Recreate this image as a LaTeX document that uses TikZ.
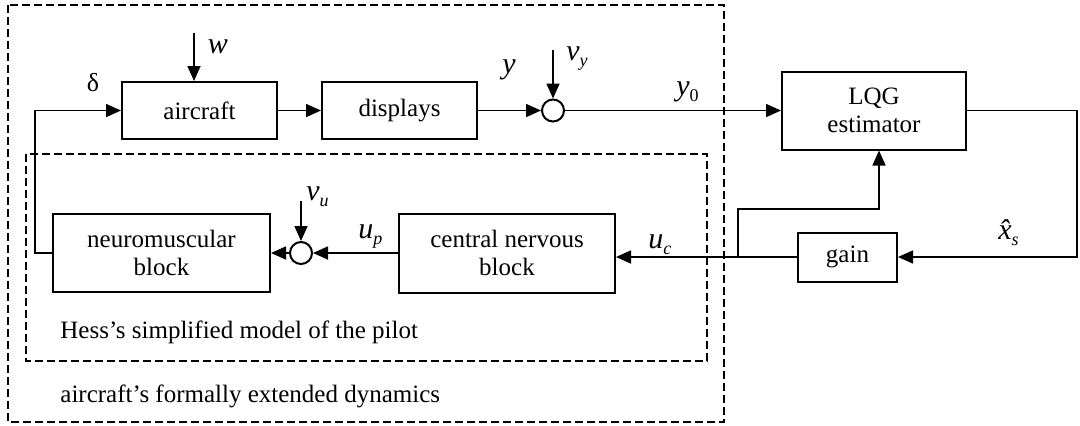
\documentclass[tikz,border=0pt]{standalone}
\usepackage{fontspec}
\setmainfont{Liberation Serif}
\usetikzlibrary{arrows.meta}

% lowered index for the signal names
\newcommand{\lsub}[1]{\raisebox{-3pt}{\fontsize{9}{9}\selectfont #1}}

\begin{document}
\begin{tikzpicture}[x=0.5pt, y=-0.5pt,
    blockbox/.style={draw, line width=1pt, align=center, inner sep=0pt, font=\fontsize{12.5}{14}\selectfont},
    sumnode/.style={circle, draw, line width=1pt, minimum size=11pt, inner sep=0pt},
    sigarrow/.style={line width=0.8pt, -{Triangle[length=7.5pt,width=6.5pt]}},
    groupline/.style={line width=0.8pt, dash pattern=on 4pt off 2pt},
    siglabel/.style={inner sep=0pt, font=\fontsize{15}{15}\selectfont\itshape},
    grouplabel/.style={inner sep=0pt, anchor=base west, font=\fontsize{12.5}{14}\selectfont}]
  \useasboundingbox (0,0) rectangle (1080,425);

  % dashed groups
  \draw[groupline] (8,5) rectangle (724,422);
  \draw[groupline] (26,154) rectangle (707,361);
  \node[grouplabel] (hess) at (60,338) {Hess’s simplified model of the pilot};
  \node[grouplabel] (ext) at (60,402) {aircraft’s formally extended dynamics};

  % blocks
  \node[blockbox, minimum width=77.5pt, minimum height=28.5pt] (air) at (199.5,110.5) {aircraft};
  \node[blockbox, minimum width=77.5pt, minimum height=28.5pt] (disp) at (399.5,110.5) {displays};
  \node[sumnode] (sumy) at (553,110.5) {};
  \node[blockbox, minimum width=92pt, minimum height=39pt] (lqg) at (874,110.5) {LQG\\estimator};
  \node[blockbox, minimum width=49.5pt, minimum height=24.5pt] (gain) at (847.5,257) {gain};
  \node[blockbox, minimum width=108pt, minimum height=39.5pt] (cnb) at (507,253) {central nervous\\block};
  \node[sumnode] (sumu) at (301,253) {};
  \node[blockbox, minimum width=108.5pt, minimum height=39pt] (nm) at (161.5,253) {neuromuscular\\block};

  % free ends and bends
  \coordinate (win) at (194,33);
  \coordinate (vyin) at (553,50);
  \coordinate (vuin) at (301,201);
  \coordinate (fb) at (35,110.5);
  \coordinate (rt) at (1077,110.5);
  \coordinate (br) at (738,257);
  \coordinate (bt) at (738,209);

  % connectors
  \draw[sigarrow] (win) -- (win |- air.north);
  \draw[sigarrow] (air) -- (disp);
  \draw[sigarrow] (disp) -- (sumy);
  \draw[sigarrow] (vyin) -- (sumy);
  \draw[sigarrow] (sumy) -- (lqg);
  \draw[sigarrow] (lqg.east) -- (rt) |- (gain.east);
  \draw[sigarrow] (gain.west) -- (gain.west -| cnb.east);
  \draw[sigarrow] (br) -- (bt) -| ([xshift=2.5pt]lqg.south);
  \draw[sigarrow] (cnb) -- (sumu);
  \draw[sigarrow] (vuin) -- (sumu);
  \draw[sigarrow] (sumu) -- (nm);
  \draw[sigarrow] (nm.west) -| (fb) -- (air.west);

  % signal names
  \node[siglabel, font=\fontsize{13}{13}\selectfont] (dl) at (93,83) {δ};
  \node[siglabel] (wl) at (218,47) {w};
  \node[siglabel] (yl) at (509,70) {y};
  \node[siglabel, anchor=base west] (vyl) at (566,60) {v\lsub{y}};
  \node[siglabel, anchor=base west] (y0l) at (676,95) {y\lsub{\upshape 0}};
  \node[siglabel, anchor=base west] (vul) at (306,200) {v\lsub{u}};
  \node[siglabel, anchor=base west] (upl) at (358,238) {u\lsub{p}};
  \node[siglabel, anchor=base west] (ucl) at (648,248) {u\lsub{c}};
  \node[siglabel, anchor=base west] (xsl) at (998,239) {\^{x}\lsub{s}};
\end{tikzpicture}
\end{document}
